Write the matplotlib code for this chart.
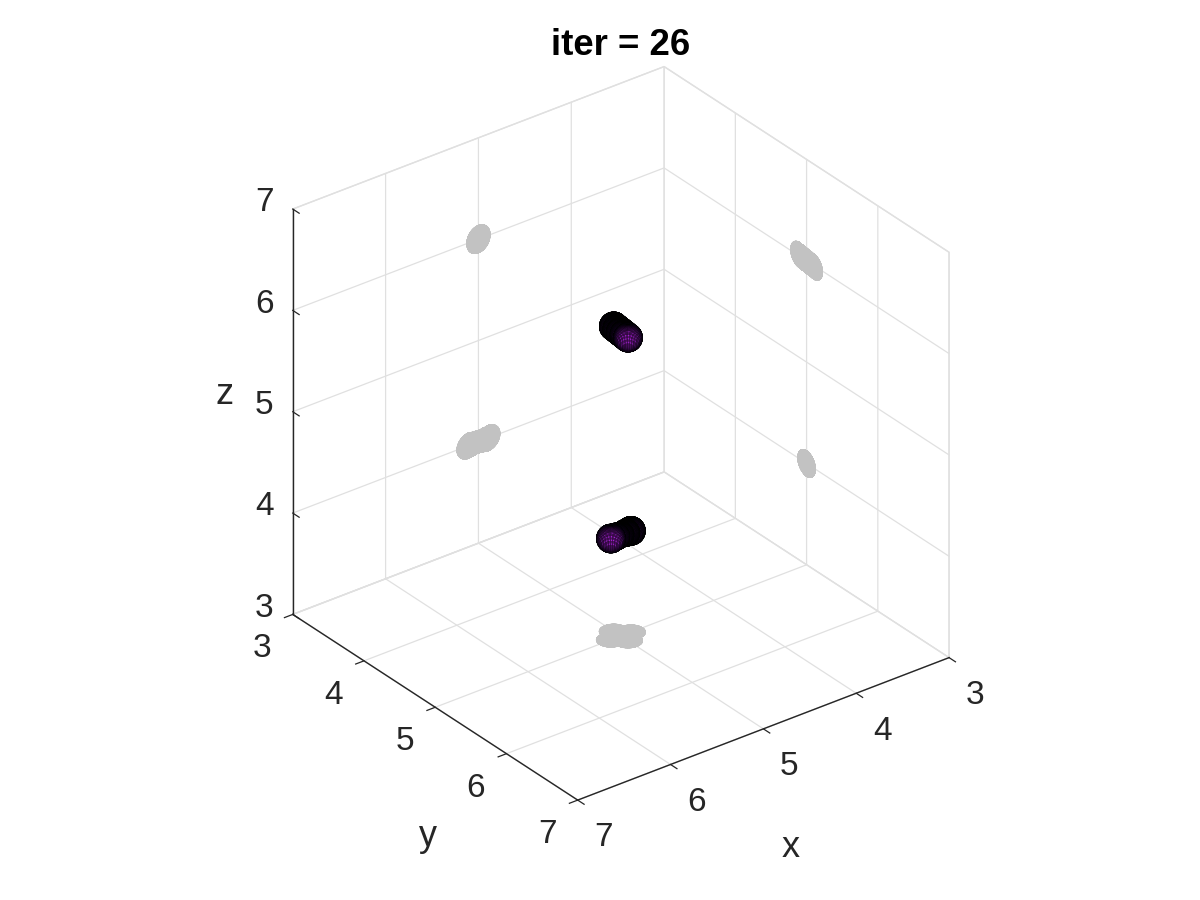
import numpy as np
import matplotlib
matplotlib.use("Agg")
import matplotlib.pyplot as plt
from matplotlib.colors import LinearSegmentedColormap
from matplotlib.transforms import Affine2D

title_text = "iter = 26"
ticks = [3, 4, 5, 6, 7]
# sphere lobes: centre x, y, z, radius, glow strength
lobe_x = [5.0, 5.0, 5.0, 5.0, 5.0, 5.108, 5.054, 5.0, 4.946, 4.892]
lobe_y = [4.9, 4.95, 5.0, 5.05, 5.1, 5.0, 5.0, 5.0, 5.0, 5.0]
lobe_z = [6.01, 6.005, 6.0, 5.995, 5.99, 4.0, 4.0, 4.0, 4.0, 4.0]
lobe_r = [0.125, 0.125, 0.125, 0.125, 0.125, 0.125, 0.118, 0.112, 0.118, 0.125]
lobe_glow = [0.3, 0.3, 0.35, 0.5, 1.0, 1.0, 0.5, 0.3, 0.3, 0.4]
floor_z, wall_x, wall_y = 3, 3, 3
shadow_color = "#c2c2c2"
grid_color = "#e0e0e0"
ink = "#262626"

plt.rcParams["font.family"] = ["Liberation Sans", "DejaVu Sans"]
fig = plt.figure(figsize=(12, 9), dpi=100, facecolor="white")
ax = fig.add_axes([0.13 - 10 / 1200, 0.11 - 9 / 900, 0.775, 0.815], projection="3d", computed_zorder=False)
ax.set_proj_type("ortho")
ax.view_init(elev=30, azim=52.5)
ax.set_xlim(3, 7); ax.set_ylim(3, 7); ax.set_zlim(3, 7)
ax.set_box_aspect((1, 1, 1), zoom=1.073)
ax.patch.set_alpha(0)

ax.set_xticks(ticks); ax.set_yticks(ticks); ax.set_zticks(ticks)
for axis in (ax.xaxis, ax.yaxis, ax.zaxis):
    axis.set_pane_color((1, 1, 1, 1))
    axis.pane.set_edgecolor(grid_color)
    axis.line.set_color(ink)
    axis.line.set_linewidth(1.0)
    axis._axinfo["grid"].update(color=grid_color, linewidth=0.9)
    axis._axinfo["tick"].update(inward_factor=0.28, outward_factor=0.0, linewidth={True: 0.9, False: 0.5}, color=ink)
ax.zaxis._get_tickdir = lambda pos: 1
ax.tick_params(labelsize=24, colors=ink, pad=4)
ax.set_xlabel("x", fontsize=26, color=ink, labelpad=12)
ax.set_ylabel("y", fontsize=26, color=ink, labelpad=12)
ax.set_zlabel("z", fontsize=26, color=ink, labelpad=10)
ax.set_title(title_text, fontsize=26.4, fontweight="bold", color="black", y=1.107, x=0.5125)


def nudge(text, dx, dy):
    """Shift a text by pixels; mplot3d resets its transform at every draw."""
    shifted = ax.transData + Affine2D().translate(dx, dy)
    text.get_transform = lambda: shifted


for axis, tick_shift, label_shift in ((ax.xaxis, (13.5, 3.5), (-7, -48)),
                                      (ax.yaxis, (-14.5, 5), (37, -64)),
                                      (ax.zaxis, (0, 20), (6, 12))):
    for t in axis.get_major_ticks():
        nudge(t.label1, *tick_shift)
    nudge(axis.label, *label_shift)

cmap = LinearSegmentedColormap.from_list("glow", ["#000000", "#2a0a45", "#b024e0"])
u = np.linspace(0, 2 * np.pi, 50)
v = np.linspace(0, np.pi, 34)
su, cv = np.outer(np.cos(u), np.sin(v)), np.outer(np.sin(u), np.sin(v))
sw = np.outer(np.ones_like(u), np.cos(v))

# shadows on the three back planes
for cx, cy, cz, r in zip(lobe_x, lobe_y, lobe_z, lobe_r):
    X, Y, Z = cx + r * su, cy + r * cv, cz + r * sw
    for P in ((X, Y, np.full_like(Z, floor_z)), (np.full_like(X, wall_x), Y, Z), (X, np.full_like(Y, wall_y), Z)):
        ax.plot_surface(*P, color=shadow_color, edgecolor=shadow_color, linewidth=0.5, shade=False, zorder=3)

# the surfaces, with black mesh edges
order = [0, 1, 2, 3, 4, 9, 8, 7, 6, 5]
for k, i in enumerate(order):
    cx, cy, cz, r, g = lobe_x[i], lobe_y[i], lobe_z[i], lobe_r[i], lobe_glow[i]
    X, Y, Z = cx + r * su, cy + r * cv, cz + r * sw
    val = np.clip(0.5 * (1 + 0.55 * su + 0.65 * cv + 0.5 * sw), 0, 1) ** 2 * g
    ax.plot_surface(X, Y, Z, facecolors=cmap(val), edgecolor="black", linewidth=0.2,
                    shade=False, rstride=1, cstride=1, zorder=5 + k)

fig.savefig("out.png", dpi=100)
